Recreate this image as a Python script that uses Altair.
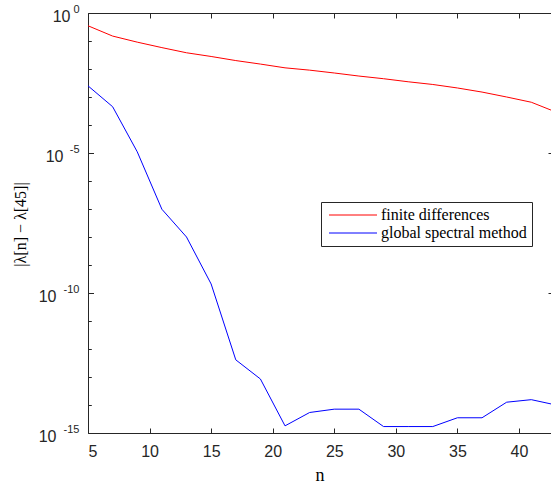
import altair as alt
import pandas as pd

n_values = [5, 7, 9, 11, 13, 15, 17, 19, 21, 23, 25, 27, 29, 31, 33, 35, 37, 39, 41, 43]
finite_differences = [0.35, 0.15, 0.091, 0.058, 0.038, 0.028, 0.020, 0.015, 0.011, 0.0091,
                      0.0072, 0.0056, 0.0045, 0.0035, 0.0028, 0.0021, 0.0015, 0.0010, 6.5e-4, 2.9e-4]
global_spectral = [2.5e-3, 4.5e-4, 1.1e-5, 9.8e-8, 1.0e-8, 2.1e-10, 4.1e-13, 8.5e-14, 1.8e-15, 5.4e-15,
                   7.1e-15, 7.1e-15, 1.7e-15, 1.7e-15, 1.7e-15, 3.5e-15, 3.5e-15, 1.26e-14, 1.55e-14, 1.0e-14]
series_names = ["finite differences", "global spectral method"]
series_colors = ["#ff0000", "#0000ff"]
x_ticks = [5, 10, 15, 20, 25, 30, 35, 40]
y_major = [1e0, 1e-5, 1e-10, 1e-15]
y_major_exponents = ["0", "-5", "-10", "-15"]
y_minor = [1e-1, 1e-2, 1e-3, 1e-4, 1e-6, 1e-7, 1e-8, 1e-9, 1e-11, 1e-12, 1e-13, 1e-14]

rows = []
for name, vals in zip(series_names, [finite_differences, global_spectral]):
    for n, v in zip(n_values, vals):
        rows.append({"n": n, "err": v, "method": name})
df = pd.DataFrame(rows)

labels_df = pd.DataFrame({"value": y_major, "exp": y_major_exponents})

AX = "#262626"
SANS = "Liberation Sans"
SERIF = "Liberation Serif"

xscale = alt.Scale(domain=[5, 42.6], nice=False, zero=False)
yscale = alt.Scale(type="log", domain=[1e-15, 1], nice=False)

main = alt.Chart(df).mark_line(clip=True, strokeWidth=1).encode(
    x=alt.X("n:Q", scale=xscale,
            axis=alt.Axis(orient="bottom", values=x_ticks, title="n", grid=False,
                          tickSize=alt.expr("-5"), tickColor=AX, domainColor=AX,
                          labelPadding=15, labelFont=SANS, labelFontSize=16, labelColor=AX,
                          titleFont=SERIF, titleFontSize=18, titleFontWeight="normal",
                          titleColor="#000000", titleBaseline="alphabetic", titleY=47)),
    y=alt.Y("err:Q", scale=yscale,
            axis=alt.Axis(orient="left", values=y_major, labels=False, grid=False,
                          title="|λ[n] − λ[45]|", tickSize=alt.expr("-5.5"), tickColor=AX,
                          domainColor=AX, titleFont=SERIF, titleFontSize=16,
                          titleFontWeight="normal", titleColor="#000000",
                          titleX=-68, titleY=211, titleBaseline="middle", titleAngle=270)),
    color=alt.Color("method:N",
                    scale=alt.Scale(domain=series_names, range=series_colors),
                    legend=alt.Legend(orient="none", legendX=233, legendY=189, title=None,
                                      strokeColor=AX, fillColor="#ffffff", padding=5,
                                      symbolType="M-4,0H4", symbolSize=144,
                                      symbolStrokeWidth=1, symbolOffset=19, labelOffset=20,
                                      labelFont=SERIF, labelFontSize=16, labelColor="#000000",
                                      rowPadding=2, labelLimit=300)),
)

top_minor = alt.Chart(df).mark_line(opacity=0).encode(
    x=alt.X("n:Q", scale=xscale,
            axis=alt.Axis(orient="top", values=x_ticks, labels=False, title=None, grid=False,
                          tickSize=alt.expr("-5"), tickColor=AX, domainColor=AX)),
    y=alt.Y("err:Q", scale=yscale,
            axis=alt.Axis(orient="left", values=y_minor, labels=False, title=None, grid=False,
                          domain=False, tickSize=alt.expr("-3.3"), tickColor=AX)),
    detail="method:N",
)

right = alt.Chart(df).mark_line(opacity=0).encode(
    x=alt.X("n:Q", scale=xscale, axis=None),
    y=alt.Y("err:Q", scale=yscale,
            axis=alt.Axis(orient="right", values=y_major, labels=False, title=None, grid=False,
                          domain=False, tickSize=alt.expr("-3"), tickColor=AX)),
    detail="method:N",
)

label_base = alt.Chart(labels_df).transform_calculate(
    px="-10.5 - length(datum.exp) * 7"
)

ten_text = label_base.mark_text(
    align="right", baseline="middle", dy=3.5, font=SANS, fontSize=16, color=AX
).encode(
    x=alt.X("px:Q", scale=None, axis=None),
    y=alt.Y("value:Q", scale=yscale, axis=None),
    text=alt.value("10"),
)

exp_text = label_base.mark_text(
    align="right", baseline="middle", dy=-3, font=SANS, fontSize=11, color=AX
).encode(
    x=alt.value(-8.5),
    y=alt.Y("value:Q", scale=yscale, axis=None),
    text="exp:N",
)

chart = alt.layer(main, top_minor, right, ten_text, exp_text).resolve_axis(
    x="independent", y="independent"
).properties(
    width=463, height=420,
    autosize=alt.AutoSizeParams(type="none"),
    padding={"left": 88, "top": 13, "right": 0, "bottom": 50},
).configure_view(stroke=None).configure(background="#ffffff")

chart.save("out.html", embed_options={"renderer": "svg", "actions": False})
